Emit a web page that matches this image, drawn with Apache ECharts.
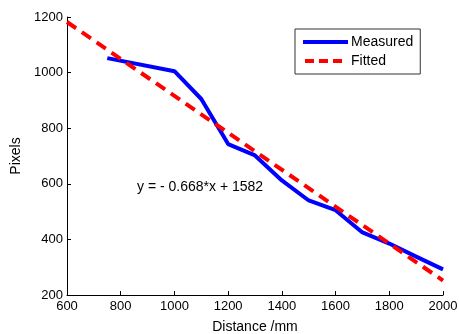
<!DOCTYPE html>
<html>
<head>
    <meta charset="utf-8" />
    <title>Pixels vs distance</title>
    <script type="text/javascript" src="https://cdn.jsdelivr.net/npm/echarts@6/dist/echarts.min.js"></script>
    <style>
        html, body { margin: 0; padding: 0; background: #fff; }
    </style>
</head>
<body>
    <div id="main" style="width: 459px;height: 334px;"></div>
    <script type="text/javascript">
        // measured points (distance mm, pixels)
        var measuredX = [750, 1000, 1100, 1200, 1300, 1400, 1500, 1600, 1700, 1800, 1900, 2000];
        var measuredY = [1052, 1005, 905, 743, 702, 612, 540, 505, 425, 385, 338, 292];
        // fitted line end points
        var fittedX = [600, 2000];
        var fittedY = [1182, 252];
        var equation = 'y = - 0.668*x + 1582';

        function pairs(xs, ys) {
            return xs.map(function (x, i) { return [x, ys[i]]; });
        }

        var font = 'Liberation Sans, Arial, sans-serif';
        var plain = function (v) { return String(v); };
        var myChart = echarts.init(document.getElementById('main'));

        myChart.setOption({
            animation: false,
            backgroundColor: '#fff',
            grid: { left: 67, right: 16, top: 17, bottom: 39, outerBoundsMode: 'none' },
            legend: {
                orient: 'vertical',
                left: 295, top: 29,
                padding: [6, 7, 6, 8],
                itemGap: 5,
                itemWidth: 45, itemHeight: 4,
                borderColor: '#333', borderWidth: 1,
                backgroundColor: '#fff',
                textStyle: { fontFamily: font, fontSize: 14, color: '#000', padding: [0, 0, 0, -2] },
                data: [
                    { name: 'Measured', icon: 'path://M0,0H45V4H0Z', itemStyle: { color: '#0000ff' } },
                    { name: 'Fitted', icon: 'path://M4,0h9v4h-9z M18,0h9v4h-9z M32,0h9v4h-9z M45,0v4z', itemStyle: { color: '#ff0000' } }
                ]
            },
            xAxis: {
                type: 'value', min: 600, max: 2000, interval: 200,
                name: 'Distance /mm', nameLocation: 'middle', nameGap: 25,
                nameTextStyle: { fontFamily: font, fontSize: 14, color: '#000' },
                axisLine: { onZero: false, lineStyle: { color: '#000', width: 1 } },
                axisTick: { inside: true, length: 4, lineStyle: { color: '#000' } },
                axisLabel: { fontFamily: font, fontSize: 13, color: '#000', margin: 5, formatter: plain },
                splitLine: { show: false }
            },
            yAxis: {
                type: 'value', min: 200, max: 1200, interval: 200,
                name: 'Pixels', nameLocation: 'middle', nameGap: 44,
                nameTextStyle: { fontFamily: font, fontSize: 14, color: '#000' },
                axisLine: { show: true, onZero: false, lineStyle: { color: '#000', width: 1 } },
                axisTick: { show: true, inside: true, length: 4, lineStyle: { color: '#000' } },
                axisLabel: { fontFamily: font, fontSize: 13, color: '#000', margin: 4, formatter: plain },
                splitLine: { show: false }
            },
            graphic: [{
                type: 'text', left: 137, top: 180,
                style: { text: equation, font: '14px ' + font, fill: '#000' }
            }],
            series: [{
                name: 'Measured', type: 'line', symbol: 'none',
                data: pairs(measuredX, measuredY),
                lineStyle: { color: '#0000ff', width: 4 },
                itemStyle: { color: '#0000ff' },
                z: 2
            }, {
                name: 'Fitted', type: 'line', symbol: 'none',
                data: pairs(fittedX, fittedY),
                lineStyle: { color: '#ff0000', width: 4, type: [11, 7] },
                itemStyle: { color: '#ff0000' },
                z: 3
            }]
        });
    </script>
</body>
</html>
